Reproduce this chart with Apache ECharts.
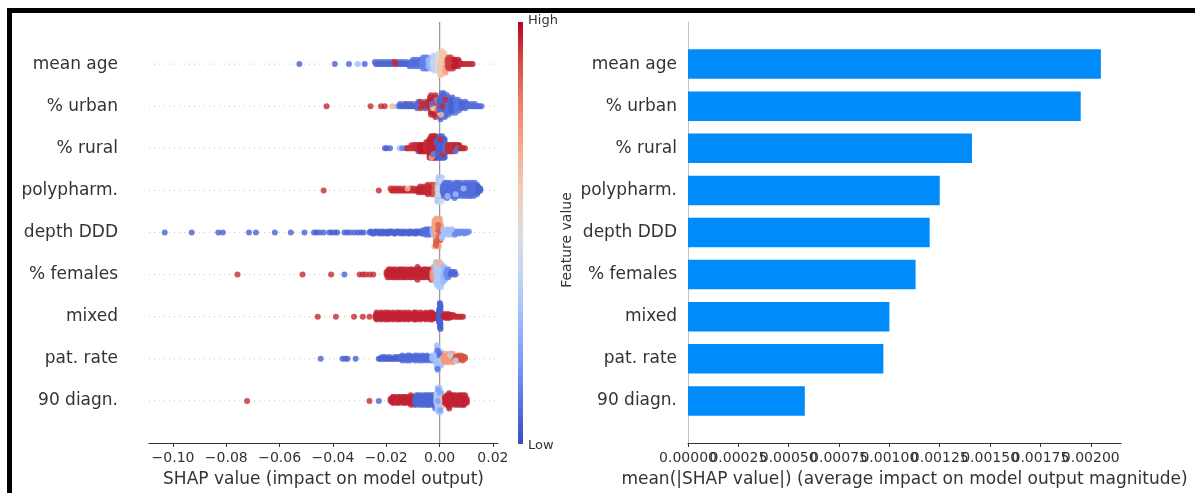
<!DOCTYPE html>
<html>
<head>
<meta charset="utf-8">
<script src="https://cdn.jsdelivr.net/npm/echarts@6/dist/echarts.min.js"></script>
<style>
  html, body { margin: 0; padding: 0; background: #ffffff; }
  #chart { width: 1195px; height: 493px; }
</style>
</head>
<body>
<div id="chart"></div>
<script>
// ---- data -------------------------------------------------------------
const featureNames = ['mean age', '% urban', '% rural', 'polypharm.', 'depth DDD',
                      '% females', 'mixed', 'pat. rate', '90 diagn.'];
const meanAbsShap = [0.00205, 0.00195, 0.00141, 0.00125, 0.00120, 0.00113, 0.00100, 0.00097, 0.00058];
const shapTicks = [-0.10, -0.08, -0.06, -0.04, -0.02, 0.00, 0.02];
const barTicks = [0, 0.00025, 0.0005, 0.00075, 0.001, 0.00125, 0.0015, 0.00175, 0.002];

// Per-feature SHAP samples, grouped as [feature value (0 = low, 1 = high), copies, [shap values]]
const swarmMeanAge = [
  [0.05, 1, [-0.0526, -0.0393, -0.0340, -0.0281]],
  [0.30, 1, [-0.0307]],
  [0.06, 1, [-0.0243, -0.0239, -0.0234, -0.0230, -0.0226, -0.0221, -0.0217, -0.0213, -0.0208, -0.0204, -0.0199, -0.0195,
             -0.0191, -0.0186, -0.0182, -0.0178, -0.0174, -0.0163, -0.0159, -0.0155, -0.0151, -0.0146, -0.0142, -0.0138,
             -0.0134, -0.0129, -0.0125, -0.0121, -0.0117, -0.0112]],
  [0.95, 1, [-0.0170, -0.0166]],
  [0.08, 2, [-0.0108, -0.0104, -0.0099, -0.0095, -0.0091, -0.0087, -0.0082, -0.0078, -0.0074, -0.0070]],
  [0.12, 3, [-0.0066, -0.0062, -0.0058, -0.0054, -0.0050, -0.0046]],
  [0.28, 3, [-0.0042, -0.0038, -0.0034, -0.0030]],
  [0.40, 4, [-0.0026, -0.0022, -0.0018, -0.0014, -0.0010]],
  [0.52, 5, [-0.0006, -0.0002]],
  [0.62, 6, [0.0002, 0.0006, 0.0010, 0.0014, 0.0018]],
  [0.72, 4, [0.0022, 0.0026]],
  [0.93, 3, [0.0030, 0.0034, 0.0038, 0.0042, 0.0046, 0.0050]],
  [0.97, 2, [0.0054, 0.0058, 0.0062, 0.0066, 0.0070, 0.0074]],
  [0.95, 1, [0.0079, 0.0085, 0.0091, 0.0097, 0.0104, 0.0111, 0.0118, 0.0124]]
];
const swarmUrban = [
  [0.95, 1, [-0.0424, -0.0259, -0.0220, -0.0206, -0.0112, -0.0088]],
  [0.70, 1, [-0.0177]],
  [0.35, 1, [-0.0160, -0.0156]],
  [0.06, 1, [-0.0152, -0.0148, -0.0144, -0.0140, -0.0136, -0.0132, -0.0128, -0.0124, -0.0120, -0.0116, -0.0108, -0.0104,
             -0.0100, -0.0096, -0.0092]],
  [0.08, 2, [-0.0084, -0.0080, -0.0076, -0.0068, -0.0064, -0.0056, -0.0052, -0.0048]],
  [0.95, 2, [-0.0072, -0.0060, -0.0044, -0.0040]],
  [0.96, 5, [-0.0036, -0.0032, -0.0028, -0.0024, -0.0020, -0.0016, -0.0012]],
  [0.62, 1, [-0.0026, -0.0018]],
  [0.10, 1, [-0.0030, -0.0014]],
  [0.85, 3, [-0.0008, -0.0004]],
  [0.06, 6, [0.0000, 0.0004, 0.0008, 0.0012, 0.0016, 0.0020, 0.0024]],
  [0.08, 5, [0.0028, 0.0032, 0.0036, 0.0040]],
  [0.05, 4, [0.0044, 0.0048, 0.0052, 0.0056]],
  [0.10, 3, [0.0060, 0.0064, 0.0068, 0.0072, 0.0076]],
  [0.06, 2, [0.0080, 0.0084, 0.0088, 0.0092, 0.0096, 0.0100]],
  [0.08, 1, [0.0104, 0.0108, 0.0112, 0.0116, 0.0120, 0.0124, 0.0128, 0.0132, 0.0136, 0.0140, 0.0145, 0.0150, 0.0157]],
  [0.95, 1, [0.0010, 0.0022]],
  [0.65, 1, [0.0006]]
];
const swarmRural = [
  [0.05, 1, [-0.0205, -0.0199, -0.0186, -0.0127, -0.0080]],
  [0.30, 1, [-0.0150]],
  [0.12, 1, [-0.0140]],
  [0.95, 1, [-0.0122, -0.0118, -0.0114, -0.0110]],
  [0.60, 1, [-0.0102]],
  [0.95, 2, [-0.0106, -0.0098, -0.0094, -0.0090, -0.0086, -0.0082, -0.0078]],
  [0.97, 3, [-0.0074, -0.0070, -0.0066, -0.0062, -0.0058, -0.0054]],
  [0.95, 4, [-0.0050, -0.0046, -0.0042]],
  [0.96, 7, [-0.0038, -0.0035, -0.0032, -0.0029, -0.0026, -0.0023, -0.0020, -0.0017, -0.0014, -0.0011, -0.0008]],
  [0.70, 1, [-0.0030, -0.0020]],
  [0.08, 1, [-0.0025, -0.0012]],
  [0.05, 7, [-0.0005, -0.0002, 0.0001, 0.0004, 0.0007, 0.0010, 0.0013, 0.0016, 0.0019]],
  [0.95, 1, [0.0003, 0.0012]],
  [0.08, 3, [0.0022, 0.0026, 0.0034, 0.0042, 0.0050]],
  [0.95, 3, [0.0030, 0.0038, 0.0046, 0.0054]],
  [0.96, 2, [0.0058, 0.0062, 0.0066, 0.0070, 0.0074]],
  [0.10, 1, [0.0060, 0.0068]],
  [0.95, 1, [0.0078, 0.0082, 0.0086, 0.0090, 0.0095]]
];
const swarmPolypharm = [
  [0.95, 1, [-0.0435, -0.0228, -0.0184, -0.0180, -0.0176, -0.0172, -0.0168, -0.0164, -0.0160, -0.0156, -0.0152, -0.0148,
             -0.0144, -0.0140, -0.0136, -0.0132, -0.0128, -0.0124, -0.0116, -0.0112, -0.0108, -0.0104, -0.0100, -0.0096,
             -0.0092, -0.0088, -0.0084]],
  [0.65, 1, [-0.0120]],
  [0.96, 2, [-0.0080, -0.0076, -0.0072, -0.0068, -0.0064, -0.0060, -0.0056, -0.0052]],
  [0.95, 3, [-0.0048, -0.0044, -0.0040, -0.0036, -0.0032, -0.0028, -0.0024]],
  [0.88, 3, [-0.0020, -0.0016, -0.0012]],
  [0.35, 6, [-0.0008, -0.0004, 0.0000, 0.0004, 0.0008]],
  [0.45, 2, [-0.0006, 0.0006]],
  [0.08, 4, [0.0012, 0.0016, 0.0020, 0.0024, 0.0028, 0.0032, 0.0036, 0.0040, 0.0044, 0.0048, 0.0052, 0.0056, 0.0060,
             0.0064, 0.0068, 0.0072, 0.0076, 0.0080, 0.0084, 0.0088, 0.0092, 0.0096, 0.0100, 0.0104, 0.0108, 0.0112,
             0.0116, 0.0120, 0.0124, 0.0128, 0.0132, 0.0136, 0.0140]],
  [0.05, 2, [0.0144, 0.0148, 0.0153]],
  [0.30, 1, [0.0030, 0.0060, 0.0090]]
];
const swarmDepthDDD = [
  [0.05, 1, [-0.1031, -0.0930, -0.0830, -0.0813, -0.0715, -0.0689, -0.0618, -0.0558, -0.0507, -0.0471, -0.0462, -0.0450,
             -0.0435, -0.0414, -0.0405, -0.0393, -0.0384, -0.0357, -0.0346, -0.0335, -0.0320, -0.0307, -0.0296, -0.0285,
             -0.0263, -0.0259, -0.0255, -0.0251, -0.0247, -0.0243, -0.0239, -0.0235, -0.0231, -0.0227, -0.0223, -0.0219,
             -0.0215, -0.0211, -0.0207, -0.0203, -0.0199, -0.0195, -0.0191, -0.0187, -0.0183, -0.0179, -0.0175, -0.0171,
             -0.0167, -0.0163, -0.0159, -0.0155, -0.0151, -0.0147, -0.0143, -0.0139, -0.0135, -0.0131, -0.0127, -0.0123,
             -0.0119, -0.0115, -0.0111, -0.0107, -0.0103, -0.0099, -0.0095, -0.0091, -0.0087, -0.0083, -0.0079, -0.0075,
             -0.0071, -0.0067]],
  [0.08, 2, [-0.0063, -0.0059, -0.0055, -0.0051, -0.0047, -0.0043, -0.0039, -0.0035, -0.0031]],
  [0.30, 2, [-0.0027, -0.0023]],
  [0.72, 8, [-0.0019, -0.0015, -0.0011, -0.0007, -0.0003, 0.0001, 0.0005]],
  [0.88, 3, [-0.0013, -0.0005, 0.0003]],
  [0.32, 2, [0.0009, 0.0013, 0.0017, 0.0021, 0.0025, 0.0029, 0.0033, 0.0037, 0.0041, 0.0045, 0.0049, 0.0053]],
  [0.15, 1, [0.0057, 0.0061, 0.0065, 0.0069, 0.0073, 0.0077, 0.0081, 0.0085, 0.0089, 0.0093, 0.0097, 0.0101, 0.0105,
             0.0110]]
];
const swarmFemales = [
  [0.95, 1, [-0.0758, -0.0514, -0.0407, -0.0300, -0.0288, -0.0277, -0.0262, -0.0249]],
  [0.05, 1, [-0.0357]],
  [0.96, 2, [-0.0199, -0.0195, -0.0191, -0.0187, -0.0183, -0.0179, -0.0175, -0.0171, -0.0167, -0.0163, -0.0159, -0.0155,
             -0.0151, -0.0147, -0.0143, -0.0139, -0.0135, -0.0131, -0.0127, -0.0123, -0.0119, -0.0115, -0.0111, -0.0107,
             -0.0103, -0.0099, -0.0095, -0.0091, -0.0087, -0.0083, -0.0079, -0.0075, -0.0071, -0.0067, -0.0063, -0.0059,
             -0.0055, -0.0051, -0.0047, -0.0043, -0.0039, -0.0035, -0.0031]],
  [0.75, 3, [-0.0027, -0.0023, -0.0019]],
  [0.35, 5, [-0.0015, -0.0011, -0.0007, -0.0003, 0.0001, 0.0005, 0.0009]],
  [0.70, 1, [-0.0009, 0.0003]],
  [0.28, 3, [0.0013, 0.0017, 0.0021]],
  [0.15, 2, [0.0025, 0.0029, 0.0033, 0.0037]],
  [0.06, 1, [0.0041, 0.0045, 0.0049, 0.0053, 0.0057, 0.0060]]
];
const swarmMixed = [
  [0.95, 1, [-0.0457, -0.0389, -0.0321, -0.0288, -0.0263]],
  [0.96, 3, [-0.0240, -0.0236, -0.0232, -0.0228, -0.0224, -0.0220, -0.0216, -0.0212, -0.0208, -0.0204, -0.0200, -0.0196,
             -0.0192, -0.0188, -0.0184, -0.0180, -0.0176, -0.0172, -0.0168, -0.0164, -0.0160, -0.0156, -0.0152, -0.0148,
             -0.0144, -0.0140, -0.0136, -0.0132, -0.0128, -0.0124, -0.0120, -0.0116, -0.0112, -0.0108, -0.0104, -0.0100,
             -0.0096, -0.0092, -0.0088, -0.0084, -0.0080, -0.0076, -0.0072, -0.0068, -0.0064, -0.0060, -0.0056, -0.0052,
             -0.0048, -0.0044, -0.0040, -0.0036, -0.0032, -0.0028, -0.0024, -0.0020, -0.0016, -0.0012]],
  [0.05, 10, [-0.0002, 0.0001, 0.0003]],
  [0.96, 2, [0.0016, 0.0020, 0.0024, 0.0028, 0.0032, 0.0036, 0.0040, 0.0044, 0.0048]],
  [0.95, 1, [0.0053, 0.0058, 0.0064, 0.0070, 0.0076, 0.0082, 0.0088]]
];
const swarmPatRate = [
  [0.05, 1, [-0.0446, -0.0364, -0.0354, -0.0345, -0.0315, -0.0228, -0.0224, -0.0220, -0.0216, -0.0212, -0.0208, -0.0204,
             -0.0200, -0.0196, -0.0192, -0.0188, -0.0184, -0.0180, -0.0176, -0.0172, -0.0168, -0.0164, -0.0160, -0.0156,
             -0.0152]],
  [0.07, 2, [-0.0148, -0.0144, -0.0140, -0.0136, -0.0132, -0.0128, -0.0124, -0.0120, -0.0116, -0.0112, -0.0108, -0.0104,
             -0.0100, -0.0096, -0.0092, -0.0088, -0.0084, -0.0080, -0.0076, -0.0072, -0.0068, -0.0064, -0.0060, -0.0056,
             -0.0052, -0.0048, -0.0044, -0.0040, -0.0036, -0.0032]],
  [0.30, 2, [-0.0028, -0.0024, -0.0020]],
  [0.32, 7, [-0.0014, -0.0010, -0.0006, -0.0002, 0.0002, 0.0006]],
  [0.08, 2, [-0.0008, 0.0000]],
  [0.42, 2, [0.0010]],
  [0.75, 3, [0.0014, 0.0018, 0.0022, 0.0026, 0.0030, 0.0034, 0.0038, 0.0042, 0.0046, 0.0050, 0.0054]],
  [0.90, 2, [0.0058, 0.0062, 0.0066, 0.0070, 0.0074, 0.0078, 0.0082, 0.0086, 0.0090, 0.0095]],
  [0.40, 1, [0.0040, 0.0060]]
];
const swarm90Diagn = [
  [0.95, 1, [-0.0722, -0.0263]],
  [0.05, 1, [-0.0228]],
  [0.96, 2, [-0.0184, -0.0180, -0.0176, -0.0172, -0.0168, -0.0164, -0.0160, -0.0156, -0.0152, -0.0148, -0.0144, -0.0140,
             -0.0136, -0.0132, -0.0128, -0.0124, -0.0120, -0.0116, -0.0112, -0.0108, -0.0104, -0.0100, -0.0096]],
  [0.06, 3, [-0.0092, -0.0088, -0.0084, -0.0080, -0.0076, -0.0072, -0.0068, -0.0064, -0.0060, -0.0056, -0.0052, -0.0048,
             -0.0044, -0.0040, -0.0036, -0.0032, -0.0028, -0.0024, -0.0020, -0.0016]],
  [0.35, 6, [-0.0012, -0.0008, -0.0004, 0.0000, 0.0004, 0.0008]],
  [0.20, 2, [-0.0006, 0.0002]],
  [0.65, 2, [0.0012, 0.0016]],
  [0.96, 3, [0.0020, 0.0024, 0.0028, 0.0032, 0.0036, 0.0040, 0.0044, 0.0048, 0.0052, 0.0056, 0.0060, 0.0064, 0.0068,
             0.0072, 0.0076, 0.0080, 0.0084, 0.0088, 0.0092, 0.0096, 0.0102]]
];
const swarmRows = [swarmMeanAge, swarmUrban, swarmRural, swarmPolypharm, swarmDepthDDD,
                   swarmFemales, swarmMixed, swarmPatRate, swarm90Diagn];

// ---- layout / styling constants ----------------------------------------
const FONT = 'DejaVu Sans';
const TEXT = '#333333';
const X_MIN = -0.109, X_MAX = 0.0219;   // SHAP axis extent
const BAR_MAX = 0.00215;                // bar axis extent
const NBINS = 100, ROW_HEIGHT = 0.4;    // beeswarm stacking parameters
const coolwarm = ['#3b4cc0', '#5977e3', '#7b9ff9', '#9ebeff', '#c0d4f5', '#dddcdc',
                  '#f2cbb7', '#f7ac8e', '#ee8468', '#d65244', '#b40426'];

// Beeswarm: quantise each row into bins and stack points alternately above/below the row line
function layoutRow(groups, row) {
  const pts = [];
  groups.forEach(([fv, copies, vals]) => vals.forEach(v => {
    for (let k = 0; k < copies; k++) pts.push([v, fv]);
  }));
  let lo = Infinity, hi = -Infinity;
  pts.forEach(p => { lo = Math.min(lo, p[0]); hi = Math.max(hi, p[0]); });
  const q = pts.map(p => Math.round(NBINS * (p[0] - lo) / (hi - lo + 1e-8)));
  const mix = i => (i * 7919) % 1009;
  const order = pts.map((_, i) => i).sort((a, b) => (q[a] - q[b]) || (mix(a) - mix(b)));
  const ys = new Array(pts.length).fill(0);
  let layer = 0, last = -1;
  order.forEach(i => {
    if (q[i] !== last) layer = 0;
    ys[i] = Math.ceil(layer / 2) * ((layer % 2) * 2 - 1);
    layer++;
    last = q[i];
  });
  const peak = Math.max(...ys) + 1;
  return pts.map((p, i) => [p[0], row - ys[i] * 0.9 * ROW_HEIGHT / peak, p[1]]);
}

const swarmData = [];
swarmRows.forEach((groups, row) => layoutRow(groups, row).forEach(d => swarmData.push(d)));
const rowIndex = featureNames.map((_, i) => i);

const fmtShap = v => (v < 0 ? '\u2212' : '') + Math.abs(v).toFixed(2);
// bar-axis ticks are labelled on two stacked axes so neighbouring labels may overlap freely
const barTicksEven = barTicks.filter((_, i) => i % 2 === 0);
const barTicksOdd = barTicks.filter((_, i) => i % 2 === 1);

const chart = echarts.init(document.getElementById('chart'), null, { renderer: 'canvas' });

const rowLines = rowIndex.map(i => ({
  type: 'line', xAxisIndex: 0, yAxisIndex: 0, silent: true, symbol: 'none', z: 1,
  data: [[X_MIN, i], [X_MAX, i]],
  lineStyle: { color: '#c8c8c8', width: 1, type: [1, 4] }
}));

const barLabel = { formatter: v => v.toFixed(5), fontFamily: FONT, fontSize: 14, color: TEXT, margin: 8,
                   showMinLabel: true, showMaxLabel: true };

chart.setOption({
  animation: false,
  backgroundColor: '#ffffff',
  textStyle: { fontFamily: FONT },
  grid: [
    { left: 149, top: 22, width: 349, height: 423 },
    { left: 688, top: 22, width: 433, height: 423 }
  ],
  xAxis: [
    {
      gridIndex: 0, type: 'value', min: X_MIN, max: X_MAX,
      axisLine: { show: true, onZero: false, lineStyle: { color: '#333333', width: 1 } },
      axisTick: { show: true, length: 4, customValues: shapTicks, lineStyle: { color: '#333333' } },
      axisLabel: { customValues: shapTicks, formatter: fmtShap, fontFamily: FONT, fontSize: 14, color: TEXT, margin: 8,
                   showMinLabel: true, showMaxLabel: true },
      splitLine: { show: false },
      name: 'SHAP value (impact on model output)', nameLocation: 'middle', nameGap: 28,
      nameTextStyle: { fontFamily: FONT, fontSize: 17, color: TEXT }
    },
    {
      gridIndex: 1, type: 'value', min: 0, max: BAR_MAX, position: 'bottom',
      axisLine: { show: true, onZero: false, lineStyle: { color: '#333333', width: 1 } },
      axisTick: { show: true, length: 4, customValues: barTicks, lineStyle: { color: '#333333' } },
      axisLabel: Object.assign({ customValues: barTicksEven }, barLabel),
      splitLine: { show: false },
      name: 'mean(|SHAP value|) (average impact on model output magnitude)', nameLocation: 'middle', nameGap: 28,
      nameTextStyle: { fontFamily: FONT, fontSize: 17, color: TEXT }
    },
    {
      gridIndex: 1, type: 'value', min: 0, max: BAR_MAX, position: 'bottom', offset: 0,
      axisLine: { show: false, onZero: false }, axisTick: { show: false },
      axisLabel: Object.assign({ customValues: barTicksOdd }, barLabel),
      splitLine: { show: false }
    }
  ],
  yAxis: [
    {
      gridIndex: 0, type: 'value', inverse: true, min: -1, max: 9,
      axisLine: { show: false }, axisTick: { show: false }, splitLine: { show: false },
      axisLabel: { customValues: rowIndex, formatter: v => featureNames[v], fontFamily: FONT, fontSize: 17, color: TEXT, margin: 31 }
    },
    {
      gridIndex: 1, type: 'category', inverse: true, boundaryGap: false,
      data: [''].concat(featureNames, ['']),
      axisLine: { show: true, onZero: false, lineStyle: { color: '#c4c4c4', width: 1 } },
      axisTick: { show: false }, splitLine: { show: false },
      axisLabel: { fontFamily: FONT, fontSize: 17, color: TEXT, margin: 11, interval: 0 }
    }
  ],
  visualMap: {
    show: false, type: 'continuous', seriesIndex: rowLines.length + 1, dimension: 2,
    min: 0, max: 1, inRange: { color: coolwarm }
  },
  series: rowLines.concat([
    {
      type: 'line', xAxisIndex: 0, yAxisIndex: 0, silent: true, symbol: 'none', z: 1,
      data: [[0, -1], [0, 9]],
      lineStyle: { color: '#999999', width: 1.3 }
    },
    {
      type: 'scatter', xAxisIndex: 0, yAxisIndex: 0, z: 2,
      symbol: 'circle', symbolSize: 6,
      data: swarmData
    },
    {
      type: 'bar', xAxisIndex: 1, yAxisIndex: 1, z: 2,
      data: [null].concat(meanAbsShap, [null]),
      barWidth: 29.5,
      itemStyle: { color: '#008bfb' }
    }
  ]),
  graphic: [
    // colour bar for the feature value
    {
      type: 'rect', shape: { x: 518, y: 22, width: 5, height: 422 },
      style: {
        fill: new echarts.graphic.LinearGradient(0, 1, 0, 0,
          coolwarm.map((c, i) => ({ offset: i / (coolwarm.length - 1), color: c })))
      }
    },
    { type: 'text', x: 528, y: 21, style: { text: 'High', font: '13px "DejaVu Sans"', fill: TEXT, textVerticalAlign: 'middle' } },
    { type: 'text', x: 528, y: 446, style: { text: 'Low', font: '13px "DejaVu Sans"', fill: TEXT, textVerticalAlign: 'middle' } },
    { type: 'text', x: 567, y: 240, rotation: Math.PI / 2,
      style: { text: 'Feature value', font: '14px "DejaVu Sans"', fill: TEXT, textAlign: 'center', textVerticalAlign: 'middle' } },
    // page frame
    { type: 'rect', shape: { x: 7, y: 8, width: 1188, height: 5 }, style: { fill: '#000000' } },
    { type: 'rect', shape: { x: 7, y: 8, width: 5, height: 485 }, style: { fill: '#000000' } }
  ]
});
</script>
</body>
</html>
